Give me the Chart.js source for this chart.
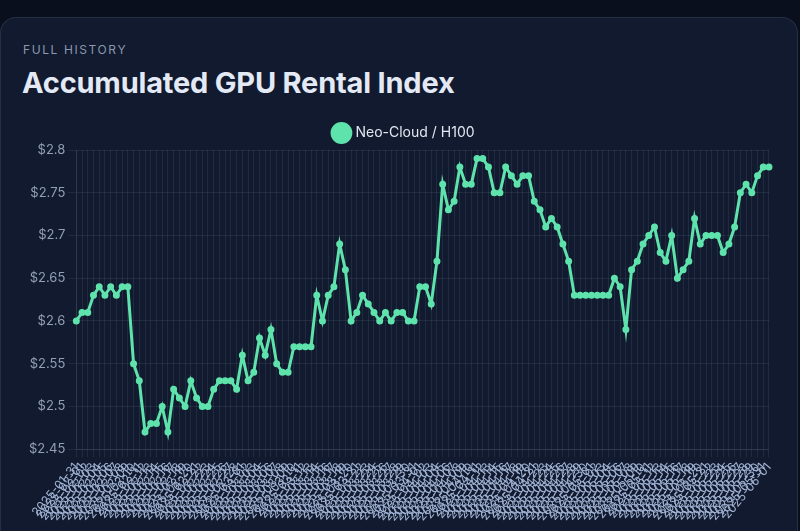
<!DOCTYPE html>
<html>
<head>
<meta charset="utf-8">
<script src="https://cdn.jsdelivr.net/npm/chart.js@4.4.1/dist/chart.umd.min.js"></script>
<style>
  html, body { margin: 0; padding: 0; }
  body { width: 800px; height: 531px; overflow: hidden; background: #0a0f1e; font-family: Inter, "Noto Sans", sans-serif; }
  .card { position: absolute; left: 0; top: 17px; width: 798px; height: 560px; background: #111a2e;
          border: 1px solid rgba(148,163,184,0.16); border-radius: 16px; box-sizing: border-box; }
  .eyebrow { position: absolute; left: 22px; top: 24px; font-size: 12px; letter-spacing: 1.6px; color: #8b98ae; }
  .title { position: absolute; left: 21px; top: 47px; font-size: 29px; font-weight: 700; color: #e3e9f5; letter-spacing: -0.2px; }
  .chart-wrap { position: absolute; left: 22px; top: 97px; width: 760px; height: 412px; }
</style>
</head>
<body>
<div class="card">
  <div class="eyebrow">FULL HISTORY</div>
  <div class="title">Accumulated GPU Rental Index</div>
  <div class="chart-wrap"><canvas id="indexChart"></canvas></div>
</div>
<script>
// series name and daily index values (USD/hr)
const seriesName = 'Neo-Cloud / H100';
const indexValues = [
  2.60, 2.61, 2.61, 2.63, 2.64, 2.63, 2.64, 2.63, 2.64, 2.64,
  2.55, 2.53, 2.47, 2.48, 2.48, 2.50, 2.47, 2.52, 2.51, 2.50,
  2.53, 2.51, 2.50, 2.50, 2.52, 2.53, 2.53, 2.53, 2.52, 2.56,
  2.53, 2.54, 2.58, 2.56, 2.59, 2.55, 2.54, 2.54, 2.57, 2.57,
  2.57, 2.57, 2.63, 2.60, 2.63, 2.64, 2.69, 2.66, 2.60, 2.61,
  2.63, 2.62, 2.61, 2.60, 2.61, 2.60, 2.61, 2.61, 2.60, 2.60,
  2.64, 2.64, 2.62, 2.67, 2.76, 2.73, 2.74, 2.78, 2.76, 2.76,
  2.79, 2.79, 2.78, 2.75, 2.75, 2.78, 2.77, 2.76, 2.77, 2.77,
  2.74, 2.73, 2.71, 2.72, 2.71, 2.69, 2.67, 2.63, 2.63, 2.63,
  2.63, 2.63, 2.63, 2.63, 2.65, 2.64, 2.59, 2.66, 2.67, 2.69,
  2.70, 2.71, 2.68, 2.67, 2.70, 2.65, 2.66, 2.67, 2.72, 2.69,
  2.70, 2.70, 2.70, 2.68, 2.69, 2.71, 2.75, 2.76, 2.75, 2.77,
  2.78, 2.78
];
// y axis range
const yMin = 2.45;
const yMax = 2.8;
const yStep = 0.05;

// one label per day
const firstDay = '2025-01-31';
const dateLabels = [];
const d = new Date(firstDay + 'T00:00:00Z');
for (let i = 0; i < indexValues.length; i++) {
    dateLabels.push(d.toISOString().slice(0, 10));
    d.setUTCDate(d.getUTCDate() + 1);
}

Chart.defaults.font.family = 'Inter, "Noto Sans", sans-serif';
Chart.defaults.font.size = 13;

const ctx = document.getElementById('indexChart').getContext('2d');
const indexChart = new Chart(ctx, {
    type: 'line',
    data: {
        labels: dateLabels,
        datasets: [{
            label: seriesName,
            data: indexValues,
            borderColor: '#5fe3ad',
            backgroundColor: '#5fe3ad',
            borderWidth: 3,
            pointRadius: 2.5,
            pointBorderWidth: 2,
            pointHoverRadius: 4,
            tension: 0,
            fill: false
        }]
    },
    options: {
        responsive: true,
        maintainAspectRatio: false,
        animation: false,
        devicePixelRatio: 1,
        layout: { padding: { left: 3 } },
        plugins: {
            legend: {
                labels: { color: '#e2e8f0', usePointStyle: true, pointStyle: 'circle', padding: 11, font: { size: 14 } }
            },
            tooltip: { enabled: false }
        },
        scales: {
            x: {
                grid: { color: 'rgba(148,163,184,0.13)' },
                border: { color: 'rgba(148,163,184,0.13)' },
                ticks: { color: '#a3b5d6', font: { size: 12 }, autoSkip: false, maxRotation: 50, minRotation: 50 }
            },
            y: {
                min: yMin,
                max: yMax,
                grid: { color: 'rgba(148,163,184,0.13)' },
                border: { color: 'rgba(148,163,184,0.13)' },
                ticks: {
                    color: '#939fb5',
                    stepSize: yStep,
                    callback: v => '$' + Number(v.toFixed(2))
                }
            }
        }
    }
});
</script>
</body>
</html>
